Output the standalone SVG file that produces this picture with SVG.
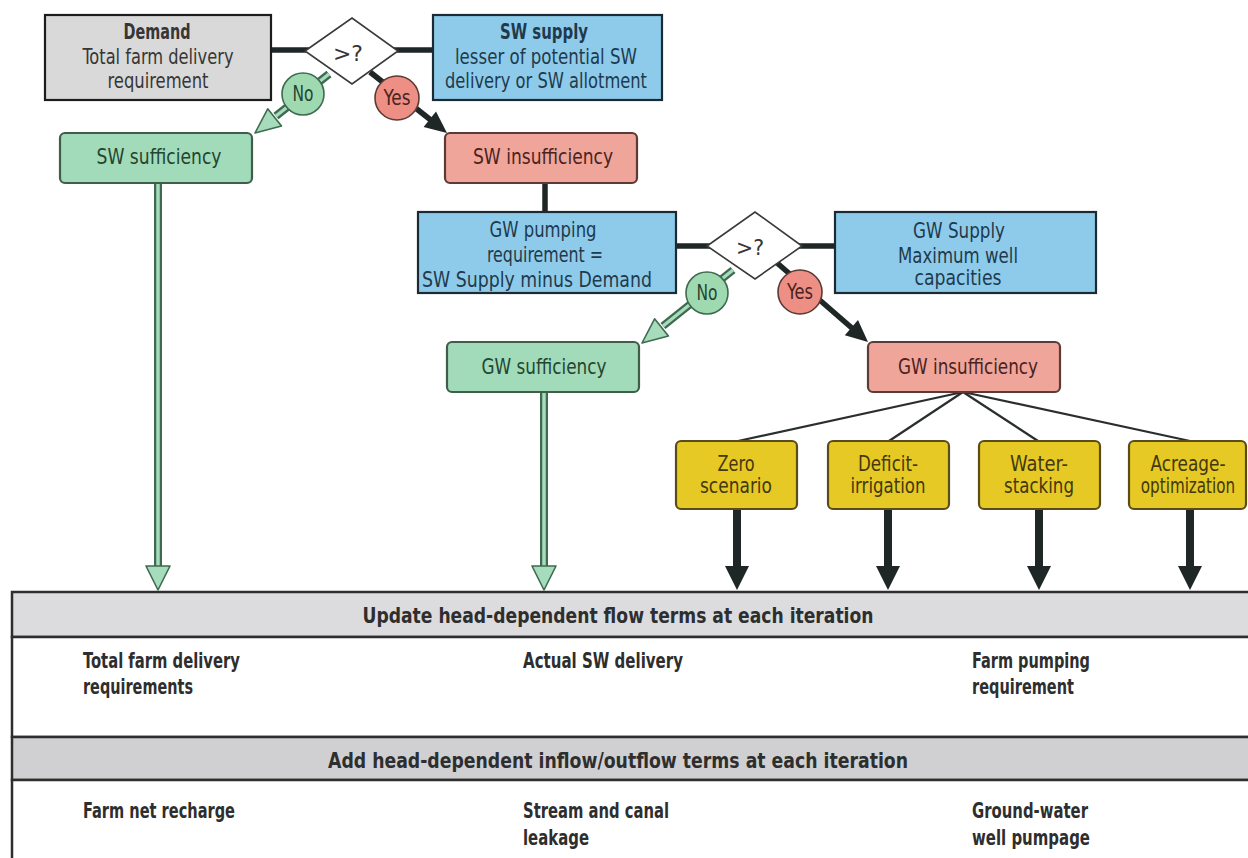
<svg xmlns="http://www.w3.org/2000/svg" width="1248" height="858" viewBox="0 0 1248 858">
  <defs>
    <style>
      .t { font-family: "DejaVu Sans Condensed", "DejaVu Sans", "Liberation Sans", sans-serif; text-anchor: middle; font-size: 20.5px; }
      .b { font-weight: bold; }
      .l { text-anchor: start; }
      .box { stroke-width: 2.2; }
      .grey { fill: #d9d9d9; stroke: #1c1c1c; }
      .blue { fill: #8ecbea; stroke: #1b2a33; }
      .green { fill: #a2dbba; stroke: #3e5e4a; }
      .red { fill: #f0a59b; stroke: #5c3a35; }
      .yellow { fill: #e6c925; stroke: #5a4c18; }
      .dia { fill: #ffffff; stroke: #3a3a3a; stroke-width: 1.6; }
      .link { stroke: #1e2626; stroke-width: 5.5; fill: none; }
      .fan { stroke: #2a2e2e; stroke-width: 2.2; fill: none; }
      .gshaft { stroke: #3e6a50; stroke-width: 8; fill: none; }
      .gcore { stroke: #a6dcbc; stroke-width: 3.5; fill: none; }
      .ghead { fill: #a6dcbc; stroke: #3e6a50; stroke-width: 1.6; stroke-linejoin: round; }
      .kshaft { stroke: #1e2626; stroke-width: 5.5; fill: none; }
      .khead { fill: #1e2626; }
      .band { stroke: #2e2e2e; stroke-width: 2.5; }
      .c-grey { fill: #363636; }
      .c-blue { fill: #1f3a4c; }
      .c-green { fill: #24452f; }
      .c-red { fill: #4a2320; }
      .c-yel { fill: #43380e; }
      .c-band { fill: #2e2e2e; }
    </style>
  </defs>

  <rect width="1248" height="858" fill="#ffffff"/>

  <!-- bottom panel: iteration terms -->
  <g id="iteration-panel">
    <rect x="12" y="592" width="1250" height="45" fill="#dcdcde" class="band"/>
    <rect x="12" y="637" width="1250" height="100" fill="#ffffff" class="band"/>
    <rect x="12" y="737" width="1250" height="43" fill="#d0d0d2" class="band"/>
    <rect x="12" y="780" width="1250" height="90" fill="#ffffff" class="band"/>
    <text class="t b c-band" x="618" y="623" font-size="26" textLength="511" lengthAdjust="spacingAndGlyphs">Update head-dependent flow terms at each iteration</text>
    <text class="t b c-band" x="618" y="768" font-size="26" textLength="580" lengthAdjust="spacingAndGlyphs">Add head-dependent inflow/outflow terms at each iteration</text>
    <g class="t b l c-band" font-size="22.5">
      <text x="83" y="668" textLength="157" lengthAdjust="spacingAndGlyphs">Total farm delivery</text>
      <text x="83" y="694" textLength="110" lengthAdjust="spacingAndGlyphs">requirements</text>
      <text x="523" y="668" textLength="160" lengthAdjust="spacingAndGlyphs">Actual SW delivery</text>
      <text x="972" y="668" textLength="118" lengthAdjust="spacingAndGlyphs">Farm pumping</text>
      <text x="972" y="694" textLength="102" lengthAdjust="spacingAndGlyphs">requirement</text>
      <text x="83" y="818" textLength="152" lengthAdjust="spacingAndGlyphs">Farm net recharge</text>
      <text x="523" y="818" textLength="146" lengthAdjust="spacingAndGlyphs">Stream and canal</text>
      <text x="523" y="845" textLength="66" lengthAdjust="spacingAndGlyphs">leakage</text>
      <text x="972" y="818" textLength="116" lengthAdjust="spacingAndGlyphs">Ground-water</text>
      <text x="972" y="845" textLength="118" lengthAdjust="spacingAndGlyphs">well pumpage</text>
    </g>
  </g>

  <!-- connectors -->
  <g id="connectors">
    <!-- comparison bars -->
    <line class="link" x1="271" y1="50" x2="352" y2="50"/>
    <line class="link" x1="352" y1="50" x2="433" y2="50"/>
    <line class="link" x1="545" y1="183" x2="545" y2="212"/>
    <line class="link" x1="676" y1="246" x2="755" y2="246"/>
    <line class="link" x1="755" y1="246" x2="835" y2="246"/>

    <!-- "No" branches (hollow green arrows) -->
    <line class="gshaft" x1="329" y1="74" x2="276" y2="116"/>
    <line class="gcore" x1="329" y1="74" x2="276" y2="116"/>
    <polygon class="ghead" points="255,133 281.5,126 267.7,108.8"/>

    <line class="gshaft" x1="733" y1="270" x2="663" y2="326"/>
    <line class="gcore" x1="733" y1="270" x2="663" y2="326"/>
    <polygon class="ghead" points="642,343 668.4,336 654.6,318.8"/>

    <line class="gshaft" x1="158" y1="183" x2="158" y2="567"/>
    <line class="gcore" x1="158" y1="183" x2="158" y2="567"/>
    <polygon class="ghead" points="146,566 170,566 158,590"/>

    <line class="gshaft" x1="544" y1="392" x2="544" y2="567"/>
    <line class="gcore" x1="544" y1="392" x2="544" y2="567"/>
    <polygon class="ghead" points="532,566 556,566 544,590"/>

    <!-- "Yes" branches (solid arrows) -->
    <line class="kshaft" x1="370" y1="72" x2="432" y2="121"/>
    <polygon class="khead" points="447,133 423.6,127.1 436,111.5"/>

    <line class="kshaft" x1="776" y1="262" x2="853" y2="329"/>
    <polygon class="khead" points="868,342 844.8,335.2 858,320.1"/>

    <!-- GW insufficiency options -->
    <line class="fan" x1="963" y1="392" x2="738" y2="441"/>
    <line class="fan" x1="963" y1="392" x2="889" y2="441"/>
    <line class="fan" x1="963" y1="392" x2="1038" y2="441"/>
    <line class="fan" x1="963" y1="392" x2="1190" y2="441"/>

    <!-- options feed the iteration update -->
    <g>
      <rect class="khead" x="733" y="509" width="8" height="60"/>
      <polygon class="khead" points="725,566 749,566 737,590"/>
      <rect class="khead" x="884" y="509" width="8" height="60"/>
      <polygon class="khead" points="876,566 900,566 888,590"/>
      <rect class="khead" x="1035" y="509" width="8" height="60"/>
      <polygon class="khead" points="1027,566 1051,566 1039,590"/>
      <rect class="khead" x="1186" y="509" width="8" height="60"/>
      <polygon class="khead" points="1178,566 1202,566 1190,590"/>
    </g>
  </g>

  <!-- surface-water stage -->
  <g id="demand">
    <rect class="box grey" x="45" y="15" width="226" height="85"/>
    <text class="t b c-grey" x="157" y="39" textLength="67" lengthAdjust="spacingAndGlyphs">Demand</text>
    <text class="t c-grey" x="158" y="64" textLength="151" lengthAdjust="spacingAndGlyphs">Total farm delivery</text>
    <text class="t c-grey" x="158" y="88" textLength="101" lengthAdjust="spacingAndGlyphs">requirement</text>
  </g>

  <g id="sw-compare">
    <polygon class="dia" points="305,51 352,18 398,51 352,84"/>
    <text class="t c-grey" x="348" y="61" font-size="26" textLength="30" lengthAdjust="spacingAndGlyphs">&gt;?</text>
  </g>

  <g id="sw-supply">
    <rect class="box blue" x="433" y="15" width="229" height="85"/>
    <text class="t b c-blue" x="544" y="39" textLength="88" lengthAdjust="spacingAndGlyphs">SW supply</text>
    <text class="t c-blue" x="546" y="64" textLength="182" lengthAdjust="spacingAndGlyphs">lesser of potential SW</text>
    <text class="t c-blue" x="546" y="88" textLength="202" lengthAdjust="spacingAndGlyphs">delivery or SW allotment</text>
  </g>

  <g id="sw-no">
    <circle cx="303" cy="94" r="21" fill="#9fd9b0" stroke="#3e6a50" stroke-width="1.6"/>
    <text class="t c-green" x="303" y="101" font-size="19" textLength="21" lengthAdjust="spacingAndGlyphs">No</text>
  </g>

  <g id="sw-yes">
    <circle cx="397" cy="98" r="22" fill="#ee8f86" stroke="#5c3a35" stroke-width="1.6"/>
    <text class="t c-red" x="397" y="105" font-size="19" textLength="27" lengthAdjust="spacingAndGlyphs">Yes</text>
  </g>

  <g id="sw-sufficiency">
    <rect class="box green" x="60" y="133" width="192" height="50" rx="5"/>
    <text class="t c-green" x="159" y="164" textLength="125" lengthAdjust="spacingAndGlyphs">SW sufficiency</text>
  </g>

  <g id="sw-insufficiency">
    <rect class="box red" x="445" y="133" width="192" height="50" rx="5"/>
    <text class="t c-red" x="543" y="164" textLength="140" lengthAdjust="spacingAndGlyphs">SW insufficiency</text>
  </g>

  <!-- ground-water stage -->
  <g id="gw-requirement">
    <rect class="box blue" x="418" y="212" width="258" height="81"/>
    <text class="t c-blue" x="543" y="237" textLength="107" lengthAdjust="spacingAndGlyphs">GW pumping</text>
    <text class="t c-blue" x="545" y="262" textLength="116" lengthAdjust="spacingAndGlyphs">requirement =</text>
    <text class="t c-blue" x="537" y="287" textLength="230" lengthAdjust="spacingAndGlyphs">SW Supply minus Demand</text>
  </g>

  <g id="gw-compare">
    <polygon class="dia" points="707,246 755,212 802,246 755,279"/>
    <text class="t c-grey" x="750" y="255" font-size="26" textLength="28" lengthAdjust="spacingAndGlyphs">&gt;?</text>
  </g>

  <g id="gw-supply">
    <rect class="box blue" x="835" y="212" width="261" height="81"/>
    <text class="t c-blue" x="959" y="238" textLength="92" lengthAdjust="spacingAndGlyphs">GW Supply</text>
    <text class="t c-blue" x="958" y="263" textLength="120" lengthAdjust="spacingAndGlyphs">Maximum well</text>
    <text class="t c-blue" x="958" y="285" textLength="87" lengthAdjust="spacingAndGlyphs">capacities</text>
  </g>

  <g id="gw-no">
    <circle cx="707" cy="293" r="21" fill="#9fd9b0" stroke="#3e6a50" stroke-width="1.6"/>
    <text class="t c-green" x="707" y="300" font-size="19" textLength="21" lengthAdjust="spacingAndGlyphs">No</text>
  </g>

  <g id="gw-yes">
    <circle cx="800" cy="292" r="22" fill="#ee8f86" stroke="#5c3a35" stroke-width="1.6"/>
    <text class="t c-red" x="800" y="299" font-size="19" textLength="26" lengthAdjust="spacingAndGlyphs">Yes</text>
  </g>

  <g id="gw-sufficiency">
    <rect class="box green" x="447" y="342" width="192" height="50" rx="5"/>
    <text class="t c-green" x="544" y="374" textLength="125" lengthAdjust="spacingAndGlyphs">GW sufficiency</text>
  </g>

  <g id="gw-insufficiency">
    <rect class="box red" x="868" y="342" width="192" height="50" rx="5"/>
    <text class="t c-red" x="968" y="374" textLength="140" lengthAdjust="spacingAndGlyphs">GW insufficiency</text>
  </g>

  <!-- management options -->
  <g id="opt-zero">
    <rect class="box yellow" x="676" y="441" width="121" height="68" rx="5"/>
    <text class="t c-yel" x="736" y="471" font-size="19.5" textLength="37" lengthAdjust="spacingAndGlyphs">Zero</text>
    <text class="t c-yel" x="736" y="493" font-size="19.5" textLength="72" lengthAdjust="spacingAndGlyphs">scenario</text>
  </g>

  <g id="opt-deficit">
    <rect class="box yellow" x="828" y="441" width="121" height="68" rx="5"/>
    <text class="t c-yel" x="888" y="471" font-size="19.5" textLength="60" lengthAdjust="spacingAndGlyphs">Deficit-</text>
    <text class="t c-yel" x="888" y="493" font-size="19.5" textLength="75" lengthAdjust="spacingAndGlyphs">irrigation</text>
  </g>

  <g id="opt-stacking">
    <rect class="box yellow" x="979" y="441" width="121" height="68" rx="5"/>
    <text class="t c-yel" x="1039" y="471" font-size="19.5" textLength="58" lengthAdjust="spacingAndGlyphs">Water-</text>
    <text class="t c-yel" x="1039" y="493" font-size="19.5" textLength="70" lengthAdjust="spacingAndGlyphs">stacking</text>
  </g>

  <g id="opt-acreage">
    <rect class="box yellow" x="1129" y="441" width="117" height="68" rx="5"/>
    <text class="t c-yel" x="1188" y="471" font-size="19.5" textLength="75" lengthAdjust="spacingAndGlyphs">Acreage-</text>
    <text class="t c-yel" transform="translate(1188,493) scale(0.82,1)" x="0" y="0" font-size="19.5" textLength="115" lengthAdjust="spacingAndGlyphs">optimization</text>
  </g>
</svg>
